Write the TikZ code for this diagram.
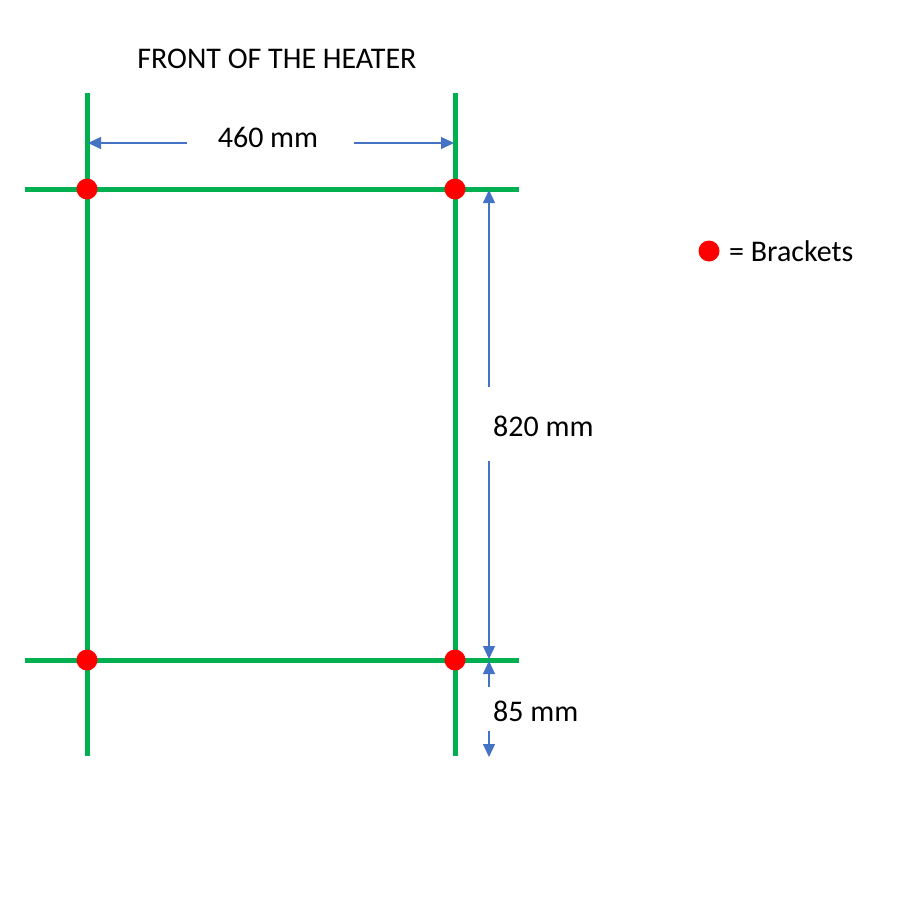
\documentclass[tikz,border=0pt]{standalone}
\usepackage{fontspec}
\setmainfont{Carlito}
\usetikzlibrary{arrows.meta}
\definecolor{ogreen}{RGB}{0,176,80}
\definecolor{oblue}{RGB}{68,114,196}
\begin{document}
\begin{tikzpicture}[x=1pt,y=-1pt,
  rail/.style={draw=ogreen,line width=5pt},
  dim/.style={draw=oblue,line width=1.3pt,-{Triangle[length=13pt,width=12pt]}},
  bracket/.style={circle,fill=red,inner sep=0pt,minimum size=21pt},
  lbl/.style={inner sep=0pt,font=\fontsize{30}{35}\selectfont}]
\useasboundingbox (0,0) rectangle (900,900);
% rail ends
\coordinate (vlt) at (87,93);  \coordinate (vlb) at (87,756);
\coordinate (vrt) at (455,93); \coordinate (vrb) at (455,756);
\coordinate (htl) at (25,189); \coordinate (htr) at (519,189);
\coordinate (hbl) at (25,660); \coordinate (hbr) at (519,660);
\draw[rail] (vlt) -- (vlb);
\draw[rail] (vrt) -- (vrb);
\draw[rail] (htl) -- (htr);
\draw[rail] (hbl) -- (hbr);
% brackets
\node[bracket] (b1) at (87,189) {};
\node[bracket] (b2) at (455,189) {};
\node[bracket] (b3) at (87,660) {};
\node[bracket] (b4) at (455,660) {};
% title
\node[lbl] (title) at (277,59) {FRONT OF THE HEATER};
% 460 mm
\node[lbl] (w) at (268,137) {460 mm};
\coordinate (wl0) at (187,143); \coordinate (wl1) at (88,143);
\coordinate (wr0) at (354,143); \coordinate (wr1) at (454,143);
\draw[dim] (wl0) -- (wl1);
\draw[dim] (wr0) -- (wr1);
% 820 mm
\node[lbl,anchor=west] (h) at (493,426) {820 mm};
\coordinate (hu0) at (489,387); \coordinate (hu1) at (489,190);
\coordinate (hd0) at (489,461); \coordinate (hd1) at (489,659);
\draw[dim] (hu0) -- (hu1);
\draw[dim] (hd0) -- (hd1);
% 85 mm
\node[lbl,anchor=west] (o) at (493,711) {85 mm};
\coordinate (ou0) at (489,687); \coordinate (ou1) at (489,661);
\coordinate (od0) at (489,731); \coordinate (od1) at (489,757);
\draw[dim] (ou0) -- (ou1);
\draw[dim] (od0) -- (od1);
% legend
\node[bracket] (leg) at (709,251) {};
\node[lbl,anchor=west] (legt) at (729,251) {= Brackets};
\end{tikzpicture}
\end{document}
